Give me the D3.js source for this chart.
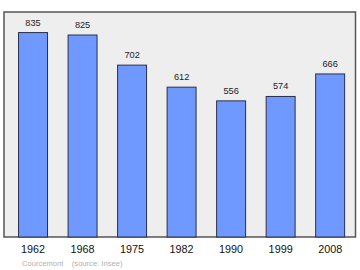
<!DOCTYPE html>
<html><head><meta charset="utf-8">
<script src="https://cdn.jsdelivr.net/npm/d3@7"></script>
<style>body{margin:0;background:#fff}svg{display:block}</style>
</head><body><svg id="c" width="360" height="270"></svg>
<script>
const years = ["1962","1968","1975","1982","1990","1999","2008"];
const population = [835,825,702,612,556,574,666];
const sourceText = "Courcemont    (source: Insee)";

const svg = d3.select("#c");
const frame = {x0:4, x1:355.5, y0:12, y1:237};
const x = d3.scaleBand().domain(years).range([frame.x0 + 0.2, frame.x1 + 3.5]).paddingInner(0.415).paddingOuter(0.29);
const y = d3.scaleLinear().domain([0, 919]).range([frame.y1, frame.y0]);

svg.append("rect").attr("x",frame.x0).attr("y",frame.y0)
  .attr("width",frame.x1-frame.x0).attr("height",frame.y1-frame.y0)
  .attr("fill","#eeeeee").attr("stroke","#555").attr("stroke-width",1.5);

svg.selectAll("rect.bar").data(population).join("rect").attr("class","bar")
  .attr("x",(d,i)=>x(years[i])).attr("width",x.bandwidth())
  .attr("y",d=>y(d)).attr("height",d=>frame.y1-y(d))
  .attr("fill","#7099ff").attr("stroke","#2a2f4a").attr("stroke-width",1);

svg.selectAll("text.val").data(population).join("text").attr("class","val")
  .attr("x",(d,i)=>x(years[i])+x.bandwidth()/2).attr("y",d=>y(d)-7)
  .attr("text-anchor","middle").attr("font-family","Liberation Sans, Arial, sans-serif")
  .attr("font-size",9.2).attr("fill","#222").text(d=>d);

const xAxis = d3.axisBottom(x).tickSize(0).tickPadding(0);
const g = svg.append("g").attr("transform",`translate(0,${frame.y1})`).call(xAxis);
g.select(".domain").remove();
g.selectAll("text").attr("font-family","Liberation Sans, Arial, sans-serif")
  .attr("font-size",10.8).attr("fill","#111").attr("dy",null).attr("y",16);

svg.append("text").attr("x",22).attr("y",265.5)
  .attr("font-family","Liberation Sans, Arial, sans-serif").attr("font-size",7.6)
  .attr("fill","#b0b0b0").attr("xml:space","preserve").style("white-space","pre").text(sourceText);
</script></body></html>
